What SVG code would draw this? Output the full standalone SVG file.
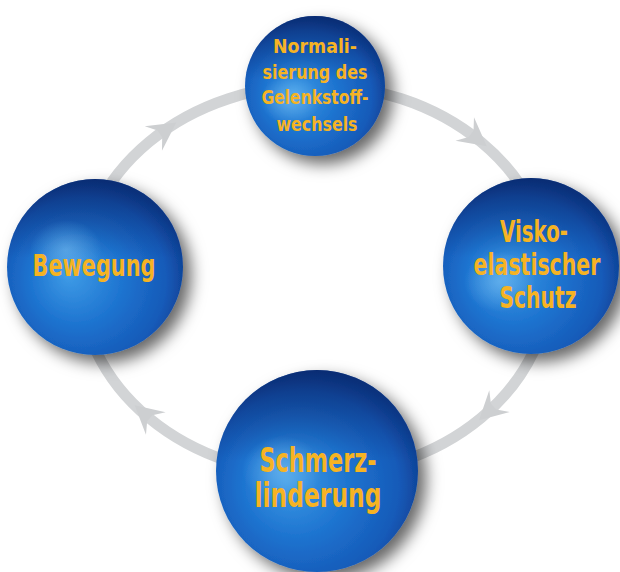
<svg xmlns="http://www.w3.org/2000/svg" width="620" height="572" viewBox="0 0 620 572">
<style>
.ring{fill:none;stroke:#d2d4d6;stroke-width:11}
.head{fill:#cdcfd1}
.lbl{font-family:"DejaVu Sans Condensed","Liberation Sans",sans-serif;font-weight:bold;fill:#f6b323;text-anchor:middle}
.ball{fill:url(#gBody)}
.shade{fill:url(#gTop)}
.hl{fill:url(#gHl)}
</style>
<defs>
<radialGradient id="gBody" cx="0.45" cy="0.58" r="0.58" fx="0.35" fy="0.55">
<stop offset="0" stop-color="#3e9be6"/>
<stop offset="0.45" stop-color="#1e74d0"/>
<stop offset="0.82" stop-color="#165ab8"/>
<stop offset="1" stop-color="#0e3f92"/>
</radialGradient>
<linearGradient id="gTop" x1="0" y1="0" x2="0" y2="1">
<stop offset="0" stop-color="#082466" stop-opacity="0.7"/>
<stop offset="0.45" stop-color="#0a2f7a" stop-opacity="0"/>
</linearGradient>
<radialGradient id="gHl" cx="0.5" cy="0.5" r="0.5">
<stop offset="0" stop-color="#7cc0f2" stop-opacity="0.55"/>
<stop offset="1" stop-color="#7cc0f2" stop-opacity="0"/>
</radialGradient>
<filter id="sh" x="-30%" y="-30%" width="170%" height="170%">
<feDropShadow dx="8" dy="8" stdDeviation="8" flood-color="#000" flood-opacity="0.6"/>
</filter>
<path id="arrow" d="M 15 0 L -13 -15 L -5 -4 L -5 4 L -13 15 Z"/>
</defs>

<g id="connectors">
<ellipse class="ring" cx="315" cy="280" rx="235" ry="195"/>
<use href="#arrow" class="head" transform="translate(164,131) rotate(-35)"/>
<use href="#arrow" class="head" transform="translate(475,137) rotate(38)"/>
<use href="#arrow" class="head" transform="translate(490,410) rotate(137)"/>
<use href="#arrow" class="head" transform="translate(146,415) rotate(-139)"/>
</g>

<g id="node-top">
<circle class="ball" cx="315" cy="86" r="70" filter="url(#sh)"/>
<circle class="shade" cx="315" cy="86" r="70"/>
<ellipse class="hl" cx="290" cy="100" rx="30" ry="24"/>
<text class="lbl" font-size="20" x="315" y="53" textLength="84" lengthAdjust="spacingAndGlyphs">Normali-</text>
<text class="lbl" font-size="20" x="315" y="79" textLength="105" lengthAdjust="spacingAndGlyphs">sierung des</text>
<text class="lbl" font-size="20" x="315" y="104" textLength="107" lengthAdjust="spacingAndGlyphs">Gelenkstoff-</text>
<text class="lbl" font-size="20" x="317" y="131" textLength="81" lengthAdjust="spacingAndGlyphs">wechsels</text>
</g>

<g id="node-right">
<circle class="ball" cx="531" cy="266" r="88" filter="url(#sh)"/>
<circle class="shade" cx="531" cy="266" r="88"/>
<ellipse class="hl" cx="500" cy="282" rx="36" ry="30"/>
<text class="lbl" font-size="30" x="534" y="242" textLength="68" lengthAdjust="spacingAndGlyphs">Visko-</text>
<text class="lbl" font-size="30" x="0" y="0" transform="translate(537,275) scale(0.76,1)">elastischer</text>
<text class="lbl" font-size="30" x="538" y="308" textLength="77" lengthAdjust="spacingAndGlyphs">Schutz</text>
</g>

<g id="node-left">
<circle class="ball" cx="95" cy="267" r="88" filter="url(#sh)"/>
<circle class="shade" cx="95" cy="267" r="88"/>
<ellipse class="hl" cx="66" cy="250" rx="36" ry="30"/>
<text class="lbl" font-size="31" x="94" y="276" textLength="123" lengthAdjust="spacingAndGlyphs">Bewegung</text>
</g>

<g id="node-bottom">
<circle class="ball" cx="317" cy="471" r="101" filter="url(#sh)"/>
<circle class="shade" cx="317" cy="471" r="101"/>
<ellipse class="hl" cx="282" cy="470" rx="40" ry="34"/>
<text class="lbl" font-size="34" x="318" y="472" textLength="117" lengthAdjust="spacingAndGlyphs">Schmerz-</text>
<text class="lbl" font-size="33" x="318" y="507" textLength="127" lengthAdjust="spacingAndGlyphs">linderung</text>
</g>
</svg>
